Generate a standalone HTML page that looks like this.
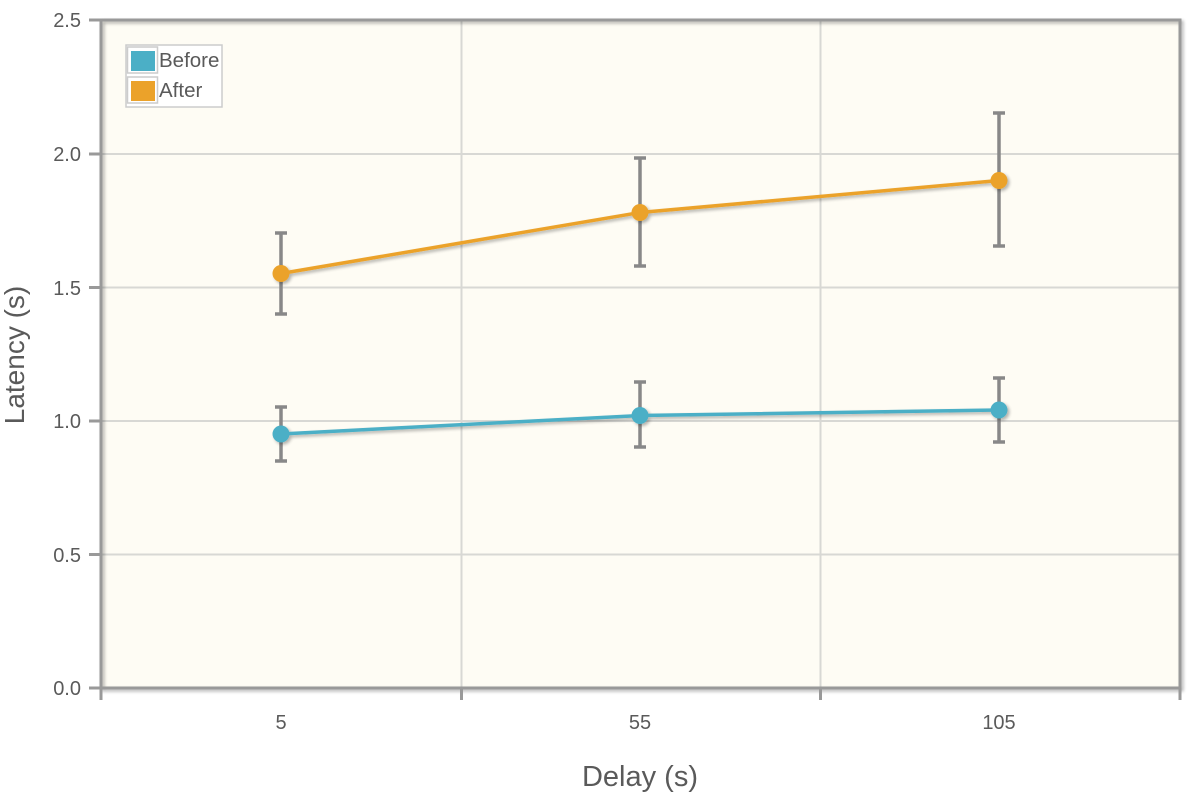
<!DOCTYPE html>
<html><head><meta charset="utf-8"><style>
html,body{margin:0;padding:0;background:#fff;}
svg{display:block;}
text{font-family:"Liberation Sans",sans-serif;fill:#5a5a5a;}
</style></head><body>
<svg width="1200" height="800" viewBox="0 0 1200 800" xmlns="http://www.w3.org/2000/svg">
<defs>
<filter id="sh" x="-20%" y="-20%" width="140%" height="140%">
<feGaussianBlur in="SourceAlpha" stdDeviation="1.5"/>
<feOffset dx="2" dy="2" result="o"/>
<feComponentTransfer><feFuncA type="linear" slope="0.3"/></feComponentTransfer>
<feMerge><feMergeNode/><feMergeNode in="SourceGraphic"/></feMerge>
</filter>
</defs>
<rect x="101" y="20" width="1079" height="668" fill="#fefcf4"/>
<!-- grid -->
<g stroke="#d8d8d4" stroke-width="2">
<line x1="101" y1="154" x2="1180" y2="154"/>
<line x1="101" y1="287.5" x2="1180" y2="287.5"/>
<line x1="101" y1="421" x2="1180" y2="421"/>
<line x1="101" y1="554.5" x2="1180" y2="554.5"/>
<line x1="461.5" y1="20" x2="461.5" y2="688"/>
<line x1="820.5" y1="20" x2="820.5" y2="688"/>
</g>
<!-- frame -->
<g filter="url(#sh)">
<rect x="101" y="20" width="1079" height="668" fill="none" stroke="#999" stroke-width="3"/>
</g>
<!-- ticks -->
<g stroke="#999" stroke-width="3">
<line x1="89" y1="20" x2="101" y2="20"/>
<line x1="89" y1="154" x2="101" y2="154"/>
<line x1="89" y1="287.5" x2="101" y2="287.5"/>
<line x1="89" y1="421" x2="101" y2="421"/>
<line x1="89" y1="554.5" x2="101" y2="554.5"/>
<line x1="89" y1="688" x2="101" y2="688"/>
<line x1="101" y1="688" x2="101" y2="700"/>
<line x1="461.5" y1="688" x2="461.5" y2="700"/>
<line x1="820.5" y1="688" x2="820.5" y2="700"/>
<line x1="1180" y1="688" x2="1180" y2="700"/>
</g>
<!-- y labels -->
<g font-size="20" text-anchor="end">
<text x="81" y="27">2.5</text>
<text x="81" y="161">2.0</text>
<text x="81" y="295">1.5</text>
<text x="81" y="428">1.0</text>
<text x="81" y="562">0.5</text>
<text x="81" y="695">0.0</text>
</g>
<g font-size="20" text-anchor="middle">
<text x="281" y="729">5</text>
<text x="640" y="729">55</text>
<text x="999" y="729">105</text>
</g>
<text x="640" y="786" font-size="29" text-anchor="middle">Delay (s)</text>
<text transform="translate(24,355) rotate(-90)" font-size="28" text-anchor="middle">Latency (s)</text>
<!-- error bars -->
<g stroke="#888" stroke-width="3.5">
<line x1="281" y1="233" x2="281" y2="314"/><line x1="275" y1="233" x2="287" y2="233"/><line x1="275" y1="314" x2="287" y2="314"/>
<line x1="640" y1="158" x2="640" y2="266"/><line x1="634" y1="158" x2="646" y2="158"/><line x1="634" y1="266" x2="646" y2="266"/>
<line x1="999" y1="113" x2="999" y2="246"/><line x1="993" y1="113" x2="1005" y2="113"/><line x1="993" y1="246" x2="1005" y2="246"/>
<line x1="281" y1="407" x2="281" y2="461"/><line x1="275" y1="407" x2="287" y2="407"/><line x1="275" y1="461" x2="287" y2="461"/>
<line x1="640" y1="382" x2="640" y2="447"/><line x1="634" y1="382" x2="646" y2="382"/><line x1="634" y1="447" x2="646" y2="447"/>
<line x1="999" y1="378" x2="999" y2="442"/><line x1="993" y1="378" x2="1005" y2="378"/><line x1="993" y1="442" x2="1005" y2="442"/>
</g>
<!-- series -->
<g filter="url(#sh)">
<polyline points="281,273.5 640,212.5 999,180.5" fill="none" stroke="#eba22a" stroke-width="3.5"/>
<circle cx="281" cy="273.5" r="8.5" fill="#eba22a"/>
<circle cx="640" cy="212.5" r="8.5" fill="#eba22a"/>
<circle cx="999" cy="180.5" r="8.5" fill="#eba22a"/>
<polyline points="281,434 640,415.5 999,410" fill="none" stroke="#4bafc6" stroke-width="3.5"/>
<circle cx="281" cy="434" r="8.5" fill="#4bafc6"/>
<circle cx="640" cy="415.5" r="8.5" fill="#4bafc6"/>
<circle cx="999" cy="410" r="8.5" fill="#4bafc6"/>
</g>
<!-- legend -->
<rect x="126" y="45" width="96" height="62" fill="#fff" stroke="#ccc" stroke-width="1.5"/>
<rect x="127.5" y="47" width="30" height="26" fill="#fff" stroke="#ccc" stroke-width="1.5"/>
<rect x="131" y="51" width="24" height="20" fill="#4bafc6"/>
<rect x="127.5" y="77" width="30" height="26" fill="#fff" stroke="#ccc" stroke-width="1.5"/>
<rect x="131" y="81" width="24" height="20" fill="#eba22a"/>
<text x="159" y="67" font-size="20.5">Before</text>
<text x="159" y="97" font-size="20.5">After</text>
</svg>
</body></html>
